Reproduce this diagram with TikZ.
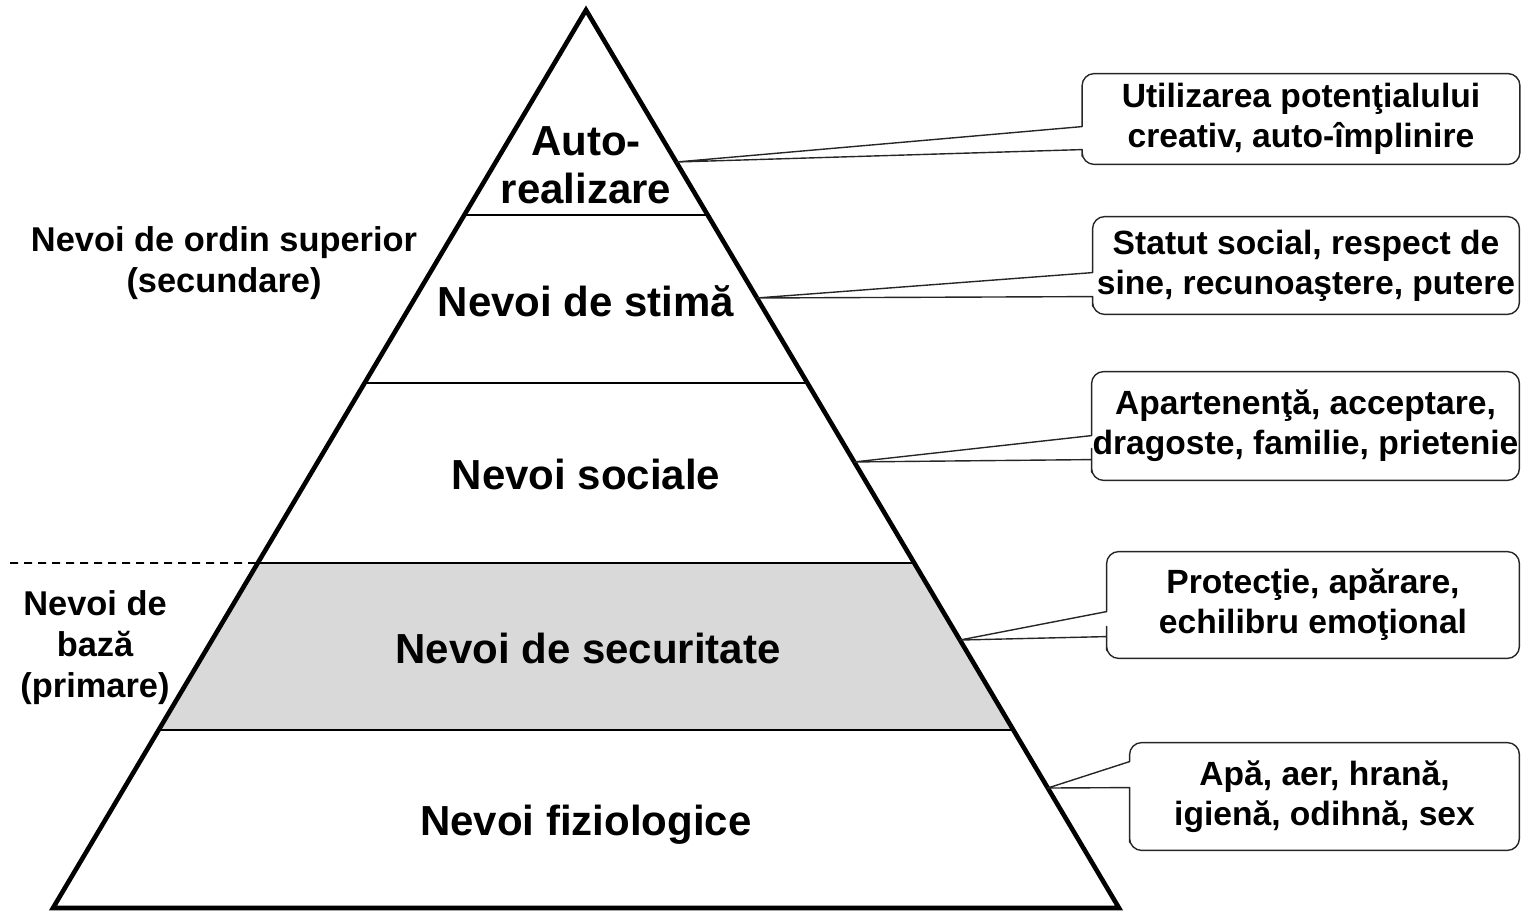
\documentclass[tikz,border=0pt]{standalone}
\usepackage{fontspec}
\setmainfont{Liberation Sans}
\usetikzlibrary{calc}
\newcommand\callbox[4]{%
  \draw[callout] (#2) -- ([yshift=-#3]#1.north west) -- ([yshift=-7.5pt]#1.north west)
    [rounded corners=6pt] -- (#1.north west) -- (#1.north east) -- (#1.south east)
    -- (#1.south west) -- ([yshift=10pt]#1.south west)
    [sharp corners] -- ([yshift=-#4]#1.north west) -- cycle;}
\begin{document}
\begin{tikzpicture}[x=0.5pt,y=-0.5pt,
  level/.style={font=\fontsize{21}{24}\selectfont\bfseries, align=center, inner sep=0pt},
  side/.style={font=\fontsize{17.2}{20.5}\selectfont\bfseries, align=center, inner sep=0pt},
  note/.style={font=\fontsize{16.8}{20}\selectfont\bfseries, align=center, inner sep=0pt},
  callout/.style={draw=black!85, line width=0.7pt, line join=round},
  divider/.style={line width=0.8pt},
  pyr/.style={line width=2.3pt, line join=miter},
  sep/.style={dashed, dash pattern=on 4pt off 3pt, line width=0.9pt}]
\useasboundingbox (0,0) rectangle (1522,913);
\coordinate (A) at (586,10);
\coordinate (BL) at (53,908);
\coordinate (BR) at (1119,908);
\foreach \n/\f in {1/0.2283,2/0.4154,3/0.6158,4/0.8018}{
  \coordinate (L\n) at ($(A)!\f!(BL)$);
  \coordinate (R\n) at ($(A)!\f!(BR)$);
}
\foreach \n/\f in {1/0.1693,2/0.3207,3/0.5033,4/0.7016,5/0.8664}{
  \coordinate (t\n) at ($(A)!\f!(BR)$);
}
% pyramid
\fill[black!15] (L3) -- (R3) -- (R4) -- (L4) -- cycle;
\draw[divider] (L1) -- (R1) (L2) -- (R2) (L3) -- (R3) (L4) -- (R4);
\draw[pyr] (A) -- (BL) -- (BR) -- cycle;
\coordinate (d0) at (10,563);
\draw[sep] (d0) -- (L3);
% level labels
\node[level] (p1) at (586,165) {Auto-\\realizare};
\node[level] (p2) at (586,301) {Nevoi de stimă};
\node[level] (p3) at (586,474) {Nevoi sociale};
\node[level] (p4) at (588,648) {Nevoi de securitate};
\node[level] (p5) at (586,825) {Nevoi fiziologice};
% side labels
\node[side] (s1) at (224,263) {Nevoi de ordin superior\\(secundare)};
\node[side] (s2) at (95,648) {Nevoi de\\bază\\(primare)};
% callouts
\node[note, minimum width=218.5pt, minimum height=45pt] (c1) at (1301,119) {Utilizarea potenţialului\\creativ, auto-împlinire};
\node[note, minimum width=213pt, minimum height=48.5pt] (c2) at (1306,265.5) {Statut social, respect de\\sine, recunoaştere, putere};
\node[note, minimum width=213.5pt, minimum height=54pt] (c3) at (1305.5,426) {Apartenenţă, acceptare,\\dragoste, familie, prietenie};
\node[note, minimum width=206pt, minimum height=53pt] (c4) at (1313,605) {Protecţie, apărare,\\echilibru emoţional};
\node[note, minimum width=194.5pt, minimum height=53.5pt] (c5) at (1324.5,796.5) {Apă, aer, hrană,\\igienă, odihnă, sex};
\callbox{c1}{t1}{26.5pt}{38pt}
\callbox{c2}{t2}{28pt}{40pt}
\callbox{c3}{t3}{32pt}{44pt}
\callbox{c4}{t4}{30pt}{42.5pt}
\callbox{c5}{t5}{9.5pt}{22.5pt}
\end{tikzpicture}
\end{document}
